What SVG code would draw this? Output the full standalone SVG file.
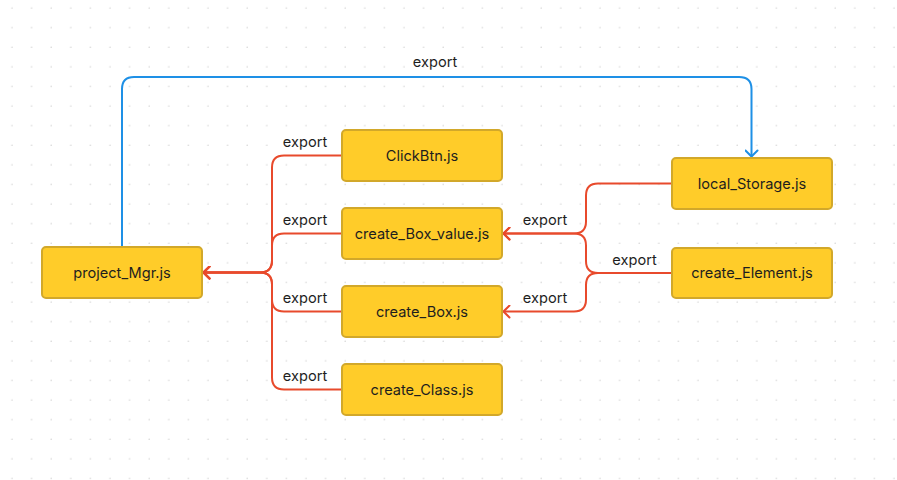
<svg xmlns="http://www.w3.org/2000/svg" width="897" height="480" viewBox="0 0 897 480">
<defs>
<pattern id="dots" x="2" y="-2" width="19.6" height="19.6" patternUnits="userSpaceOnUse">
<circle cx="10" cy="10" r="0.8" fill="#d6d6d6"/>
</pattern>
<marker id="ar" viewBox="0 0 10 14" refX="9" refY="7" markerWidth="10" markerHeight="14" markerUnits="userSpaceOnUse" orient="auto">
<path d="M3,1 L9,7 L3,13" fill="none" stroke="#E84A2C" stroke-width="2" stroke-linecap="round" stroke-linejoin="round"/>
</marker>
<marker id="ab" viewBox="0 0 10 14" refX="9" refY="7" markerWidth="10" markerHeight="14" markerUnits="userSpaceOnUse" orient="auto">
<path d="M3,1 L9,7 L3,13" fill="none" stroke="#1E90E6" stroke-width="2" stroke-linecap="round" stroke-linejoin="round"/>
</marker>
</defs>
<style>
.node rect{fill:#FFCC29;stroke:#D2A82A;stroke-width:2}
.node text{font-family:Inter,"Liberation Sans",sans-serif;font-size:14.6px;fill:#1E1E1E;text-anchor:middle;dominant-baseline:central}
.red{fill:none;stroke:#E84A2C;stroke-width:2}
.blue{fill:none;stroke:#1E90E6;stroke-width:2}
.lbl{font-family:Inter,"Liberation Sans",sans-serif;font-size:14.6px;fill:#1E1E1E;text-anchor:middle}
</style>
<rect width="897" height="480" fill="#ffffff"/>
<rect width="897" height="480" fill="url(#dots)"/>
<g id="connectors">
<path class="blue" d="M122,247 V89 Q122,77 134,77 H739 Q751.5,77 751.5,89 V156.5" marker-end="url(#ab)"/>
<path class="red" d="M342,155.5 H284 Q272,155.5 272,167.5 V260.5 Q272,272.5 260,272.5 H203.5" marker-end="url(#ar)"/>
<path class="red" d="M342,233.5 H284 Q272,233.5 272,245.5 V260.5 Q272,272.5 260,272.5 H203.5" marker-end="url(#ar)"/>
<path class="red" d="M342,311.5 H284 Q272,311.5 272,299.5 V284.5 Q272,272.5 260,272.5 H203.5" marker-end="url(#ar)"/>
<path class="red" d="M342,389.5 H284 Q272,389.5 272,377.5 V284.5 Q272,272.5 260,272.5 H203.5" marker-end="url(#ar)"/>
<path class="red" d="M672,183.5 H598 Q586,183.5 586,195.5 V221.5 Q586,233.5 574,233.5 H503.5" marker-end="url(#ar)"/>
<path class="red" d="M672,273 H598 Q586,273 586,261 V245.5 Q586,233.5 574,233.5 H503.5" marker-end="url(#ar)"/>
<path class="red" d="M672,273 H598 Q586,273 586,285 V299.5 Q586,311.5 574,311.5 H503.5" marker-end="url(#ar)"/>
<text class="lbl" x="435" y="67">export</text>
<text class="lbl" x="305" y="147">export</text>
<text class="lbl" x="305" y="225">export</text>
<text class="lbl" x="305" y="303">export</text>
<text class="lbl" x="305" y="381">export</text>
<text class="lbl" x="545" y="225">export</text>
<text class="lbl" x="545" y="303">export</text>
<text class="lbl" x="634.5" y="265">export</text>
</g>
<g id="project_Mgr" class="node"><rect x="42" y="247" width="160" height="51" rx="4"/><text x="122" y="272.5">project_Mgr.js</text></g>
<g id="ClickBtn" class="node"><rect x="342" y="130" width="160" height="51" rx="4"/><text x="422" y="155.5">ClickBtn.js</text></g>
<g id="create_Box_value" class="node"><rect x="342" y="208" width="160" height="51" rx="4"/><text x="422" y="233.5">create_Box_value.js</text></g>
<g id="create_Box" class="node"><rect x="342" y="286" width="160" height="51" rx="4"/><text x="422" y="311.5">create_Box.js</text></g>
<g id="create_Class" class="node"><rect x="342" y="364" width="160" height="51" rx="4"/><text x="422" y="389.5">create_Class.js</text></g>
<g id="local_Storage" class="node"><rect x="672" y="158" width="160" height="51" rx="4"/><text x="752" y="183.5">local_Storage.js</text></g>
<g id="create_Element" class="node"><rect x="672" y="248" width="160" height="50" rx="4"/><text x="752" y="273">create_Element.js</text></g>
</svg>
